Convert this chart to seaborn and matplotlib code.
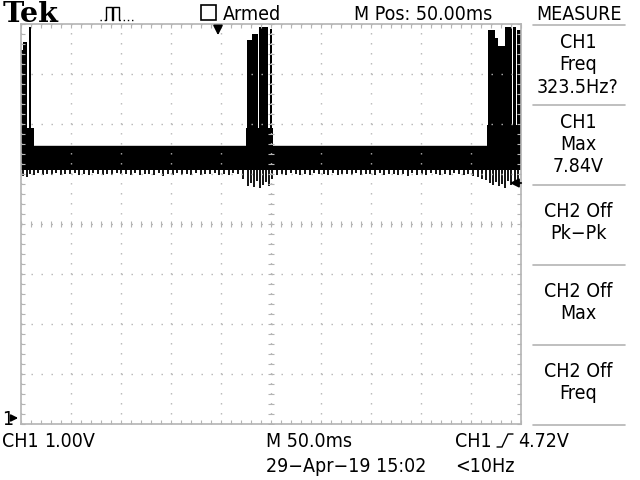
import matplotlib
matplotlib.use("Agg")
import matplotlib.pyplot as plt
from matplotlib.lines import Line2D
from matplotlib.patches import Rectangle
from matplotlib.ticker import MultipleLocator
import numpy as np
import seaborn as sns

sns.set_theme(style="white")
plt.rcParams["font.family"] = ["DejaVu Sans"]
plt.rcParams["font.stretch"] = "condensed"

# trace: time in ms (50 ms/div), voltage in V (1 V/div)
band_t = [0, 500]
band_lo = [4.97, 4.97]
band_hi = [5.45, 5.45]

plateau_start = [0, 225, 466]
plateau_end = [13, 252, 500]
plateau_top = [5.82, 5.82, 5.88]

spike_start = [0, 2, 8, 226, 231, 238, 249, 467, 474, 477, 484, 492, 496]
spike_end = [2, 6, 10, 231, 237, 247, 251, 474, 477, 484, 491, 495, 500]
spike_top = [7.38, 7.54, 7.84, 7.58, 7.70, 7.84, 7.80, 7.78, 7.62, 7.45, 7.84, 7.84, 7.78]

dip_t = [2, 6, 9, 13, 17, 22, 26, 31, 35, 40, 44, 49, 54, 58, 63, 68, 72, 77, 82,
         86, 91, 96, 100, 105, 110, 114, 119, 124, 128, 133, 138, 142, 147, 152,
         156, 161, 166, 170, 175, 180, 184, 189, 194, 198, 203, 208, 212, 217, 222,
         227, 230, 233, 236, 239, 242, 245, 248, 251, 256, 261, 265, 270, 275, 279,
         284, 289, 293, 298, 303, 307, 312, 317, 321, 326, 331, 335, 340, 345, 349,
         354, 359, 363, 368, 373, 377, 382, 387, 391, 396, 401, 405, 410, 415, 419,
         424, 429, 433, 438, 443, 447, 452, 457, 461, 465, 469, 472, 475, 478, 481,
         484, 487, 490, 494, 497]
dip_v = [4.86, 4.84, 4.90, 4.88, 4.91, 4.87, 4.90, 4.88, 4.92, 4.87, 4.90, 4.89,
         4.91, 4.88, 4.90, 4.87, 4.91, 4.89, 4.88, 4.90, 4.87, 4.91, 4.89, 4.90,
         4.88, 4.91, 4.87, 4.90, 4.89, 4.88, 4.91, 4.86, 4.90, 4.88, 4.91, 4.87,
         4.90, 4.88, 4.92, 4.87, 4.90, 4.89, 4.91, 4.88, 4.90, 4.87, 4.91, 4.89,
         4.80, 4.66, 4.72, 4.64, 4.75, 4.62, 4.68, 4.74, 4.66, 4.80, 4.88, 4.90,
         4.87, 4.91, 4.89, 4.88, 4.90, 4.87, 4.91, 4.89, 4.90, 4.88, 4.91, 4.87,
         4.90, 4.89, 4.88, 4.91, 4.87, 4.90, 4.89, 4.88, 4.91, 4.87, 4.90, 4.89,
         4.88, 4.90, 4.86, 4.91, 4.88, 4.90, 4.87, 4.91, 4.89, 4.88, 4.90, 4.87,
         4.91, 4.89, 4.88, 4.90, 4.86, 4.84, 4.80, 4.78, 4.72, 4.68, 4.74, 4.66,
         4.70, 4.62, 4.76, 4.68, 4.72, 4.74]

trig_level = 4.72
trig_pos = 197

grey = "#b4b4b4"
W, H = 640, 480


def fx(x):
    return x / W


def fy(y):
    return 1 - y / H


fig = plt.figure(figsize=(6.4, 4.8), dpi=100)
fig.patch.set_facecolor("white")
ax = fig.add_axes([fx(21), fy(424), 500 / W, 400 / H])

# trace
ax.fill_between(band_t, band_lo, band_hi, color="black", lw=0, zorder=1)
sns.lineplot(x=band_t, y=band_hi, color="black", lw=1, ax=ax, zorder=1)
ax.bar(plateau_start, [t - band_lo[0] for t in plateau_top],
       width=[e - s for s, e in zip(plateau_start, plateau_end)],
       bottom=band_lo[0], align="edge", color="black", lw=0, zorder=1)
ax.bar(spike_start, [t - band_lo[0] for t in spike_top],
       width=[e - s for s, e in zip(spike_start, spike_end)],
       bottom=band_lo[0], align="edge", color="black", lw=0, zorder=1)
ax.vlines(dip_t, dip_v, band_lo[0] + 0.02, color="black", lw=1.3, zorder=1)

ax.set_xlim(0, 500)
ax.set_ylim(-0.1, 7.9)
ax.xaxis.set_major_locator(MultipleLocator(50))
ax.xaxis.set_minor_locator(MultipleLocator(10))
ax.yaxis.set_major_locator(MultipleLocator(1, offset=-0.1))
ax.yaxis.set_minor_locator(MultipleLocator(0.2, offset=-0.1))
ax.grid(True, which="major", color=grey, lw=1.0, linestyle=(0, (1, 6.2)))
ax.grid(False, which="minor")
ax.set_axisbelow(False)
ax.tick_params(which="both", direction="in", top=True, right=True, bottom=True,
               left=True, length=3, width=0.8, color=grey,
               labelbottom=False, labelleft=False)
for s in ax.spines.values():
    s.set_color(grey)
    s.set_linewidth(1.2)
ax.set_xlabel("")
ax.set_ylabel("")

# centre crosshair ticks
ax.plot(np.arange(0, 501, 10), [3.9] * 51, ls="none", marker="|", ms=4,
        mew=0.8, color=grey, zorder=3)
ax.plot([250] * 41, np.arange(-0.1, 7.95, 0.2), ls="none", marker="_", ms=4,
        mew=0.8, color=grey, zorder=3)

# trigger markers
ax.annotate("", xy=(486, trig_level), xytext=(503, trig_level),
            arrowprops=dict(arrowstyle="-|>", color="black", lw=1.3, mutation_scale=13),
            annotation_clip=False)
ax.annotate("", xy=(trig_pos, 7.62), xytext=(trig_pos, 7.92),
            arrowprops=dict(arrowstyle="-|>", color="black", lw=1.3, mutation_scale=14),
            annotation_clip=False)
ax.annotate("", xy=(0, 0.02), xytext=(-12, 0.02),
            arrowprops=dict(arrowstyle="-|>", color="black", lw=1.3, mutation_scale=10),
            annotation_clip=False)

fs = 14
txt = dict(color="black", fontsize=fs, va="baseline")

# header
fig.text(fx(3), fy(22), "Tek", family="DejaVu Serif", weight="bold",
         fontsize=20.5, color="black", va="baseline", stretch="normal")
pulse_x = [100, 106, 106, 112, 112, 113, 113, 119, 119, 134]
pulse_y = [20, 20, 7, 7, 20, 20, 7, 7, 20, 20]
fig.add_artist(Line2D([fx(v) for v in pulse_x[:2]], [fy(v) for v in pulse_y[:2]],
                      color="black", lw=1, ls=(0, (1, 2))))
fig.add_artist(Line2D([fx(v) for v in pulse_x[1:9]], [fy(v) for v in pulse_y[1:9]],
                      color="black", lw=1))
fig.add_artist(Line2D([fx(v) for v in pulse_x[8:]], [fy(v) for v in pulse_y[8:]],
                      color="black", lw=1, ls=(0, (1, 2))))
fig.add_artist(Rectangle((fx(201), fy(20)), 15 / W, 15 / H, transform=fig.transFigure,
                         fill=False, ec="black", lw=1.2))
fig.text(fx(252), fy(20), "Armed", ha="center", **txt)
fig.text(fx(423), fy(20), "M Pos: 50.00ms", ha="center", **txt)
fig.text(fx(579), fy(20), "MEASURE", ha="center", **txt)

# measure panel
for y in [25, 105, 185, 265, 345, 425]:
    fig.add_artist(Line2D([fx(533), fx(625)], [fy(y), fy(y)], color=grey, lw=1.2))
panel = [("CH1", 48), ("Freq", 70), ("323.5Hz?", 93),
         ("CH1", 128), ("Max", 150), ("7.84V", 172),
         ("CH2 Off", 217), ("Pk\u2212Pk", 239),
         ("CH2 Off", 297), ("Max", 319),
         ("CH2 Off", 377), ("Freq", 399)]
for s, y in panel:
    fig.text(fx(578), fy(y), s, ha="center", **txt)

# footer
fig.text(fx(2), fy(425), "1", **txt)
fig.text(fx(2), fy(447), "CH1", **txt)
fig.text(fx(44), fy(447), "1.00V", **txt)
fig.text(fx(266), fy(447), "M 50.0ms", **txt)
fig.text(fx(455), fy(447), "CH1", **txt)
fig.add_artist(Line2D([fx(497), fx(502), fx(508), fx(513)],
                      [fy(447), fy(447), fy(434), fy(434)], color="black", lw=1))
fig.text(fx(518), fy(447), "4.72V", **txt)
fig.text(fx(266), fy(472), "29\u2212Apr\u221219 15:02", **txt)
fig.text(fx(455), fy(472), "<10Hz", **txt)

fig.savefig("out.png", dpi=100, facecolor="white")
